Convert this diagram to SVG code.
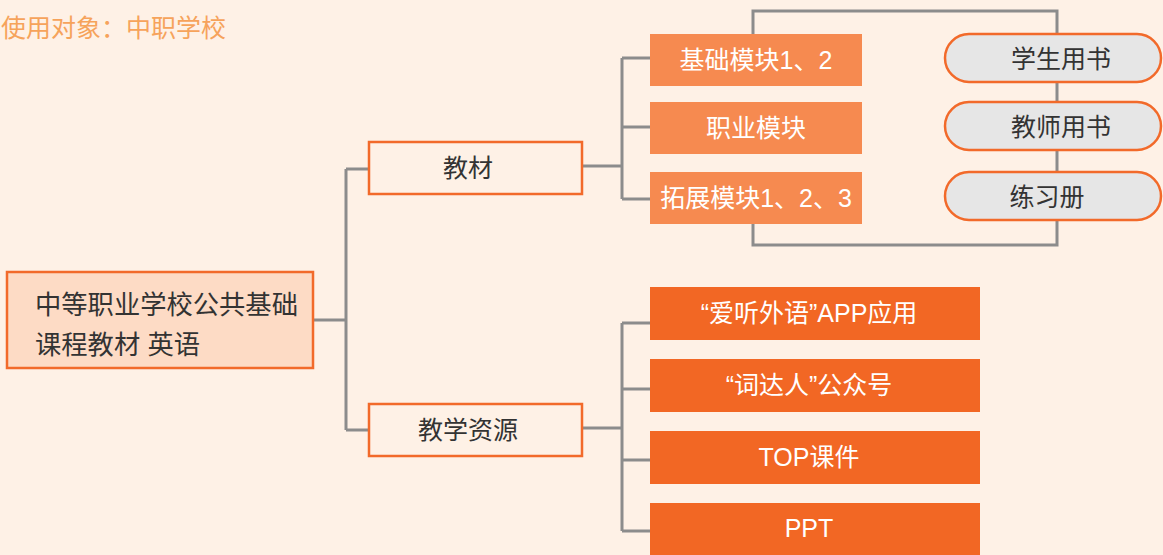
<svg xmlns="http://www.w3.org/2000/svg" width="1163" height="555" viewBox="0 0 1163 555">
<style>
text{font-family:"Liberation Sans","Noto Sans CJK SC",sans-serif;font-size:25px;dominant-baseline:central;text-anchor:middle}
.line{fill:none;stroke:#8C8C8C;stroke-width:3}
.outl{fill:#FEF1E6;stroke:#F26A2A;stroke-width:2.5}
.light{fill:#F68A50}
.dark{fill:#F26724}
.pill{fill:#E6E6E6;stroke:#F26A2A;stroke-width:2.5}
.w{fill:#FFFFFF}
.k{fill:#333333}
</style>
<rect width="1163" height="555" fill="#FEF1E6"/>
<text x="1" y="28" style="text-anchor:start;fill:#F6A35B">使用对象：中职学校</text>
<g id="connectors">
<path class="line" d="M313 320H346M346 169V430M346 169H370M346 430H370"/>
<path class="line" d="M582 166H622M622 58V199M622 58H650M622 127H650M622 199H650"/>
<path class="line" d="M753 34V11H1057V34M1057 82V102M1057 150V172M753 224V245H1057V220"/>
<path class="line" d="M582 428H622M622 323V531M622 323H650M622 389H650M622 460H650M622 531H650"/>
</g>
<g id="root">
<rect x="7" y="272" width="306" height="96" fill="#FDDBC5" stroke="#F26A2A" stroke-width="2.5"/>
<text x="35" y="305" class="k" style="text-anchor:start;font-size:26.3px">中等职业学校公共基础</text>
<text x="35" y="345" class="k" style="text-anchor:start;font-size:26.3px">课程教材 英语</text>
</g>
<g id="jiaocai">
<rect class="outl" x="369" y="142" width="213" height="52"/>
<text x="468" y="168" class="k">教材</text>
</g>
<g id="jiaoxueziyuan">
<rect class="outl" x="369" y="404" width="213" height="52"/>
<text x="468" y="430" class="k">教学资源</text>
</g>
<g id="jichu">
<rect class="light" x="650" y="34" width="212" height="52"/>
<text x="756" y="60" class="w">基础模块1、2</text>
</g>
<g id="zhiye">
<rect class="light" x="650" y="102" width="212" height="52"/>
<text x="756" y="128" class="w">职业模块</text>
</g>
<g id="tuozhan">
<rect class="light" x="650" y="172" width="212" height="52"/>
<text x="756" y="198" class="w">拓展模块1、2、3</text>
</g>
<g id="xuesheng">
<rect class="pill" x="945" y="34" width="216" height="48" rx="24"/>
<text x="1061" y="59" class="k">学生用书</text>
</g>
<g id="jiaoshi">
<rect class="pill" x="945" y="102" width="216" height="48" rx="24"/>
<text x="1061" y="127" class="k">教师用书</text>
</g>
<g id="lianxi">
<rect class="pill" x="945" y="172" width="216" height="48" rx="24"/>
<text x="1047" y="197" class="k">练习册</text>
</g>
<g id="app">
<rect class="dark" x="650" y="287" width="330" height="53"/>
<text x="809" y="313" class="w">“爱听外语”APP应用</text>
</g>
<g id="cidaren">
<rect class="dark" x="650" y="359" width="330" height="53"/>
<text x="809" y="385" class="w">“词达人”公众号</text>
</g>
<g id="top">
<rect class="dark" x="650" y="431" width="330" height="53"/>
<text x="809" y="457" class="w">TOP课件</text>
</g>
<g id="ppt">
<rect class="dark" x="650" y="503" width="330" height="53"/>
<text x="809" y="528" class="w">PPT</text>
</g>
</svg>
